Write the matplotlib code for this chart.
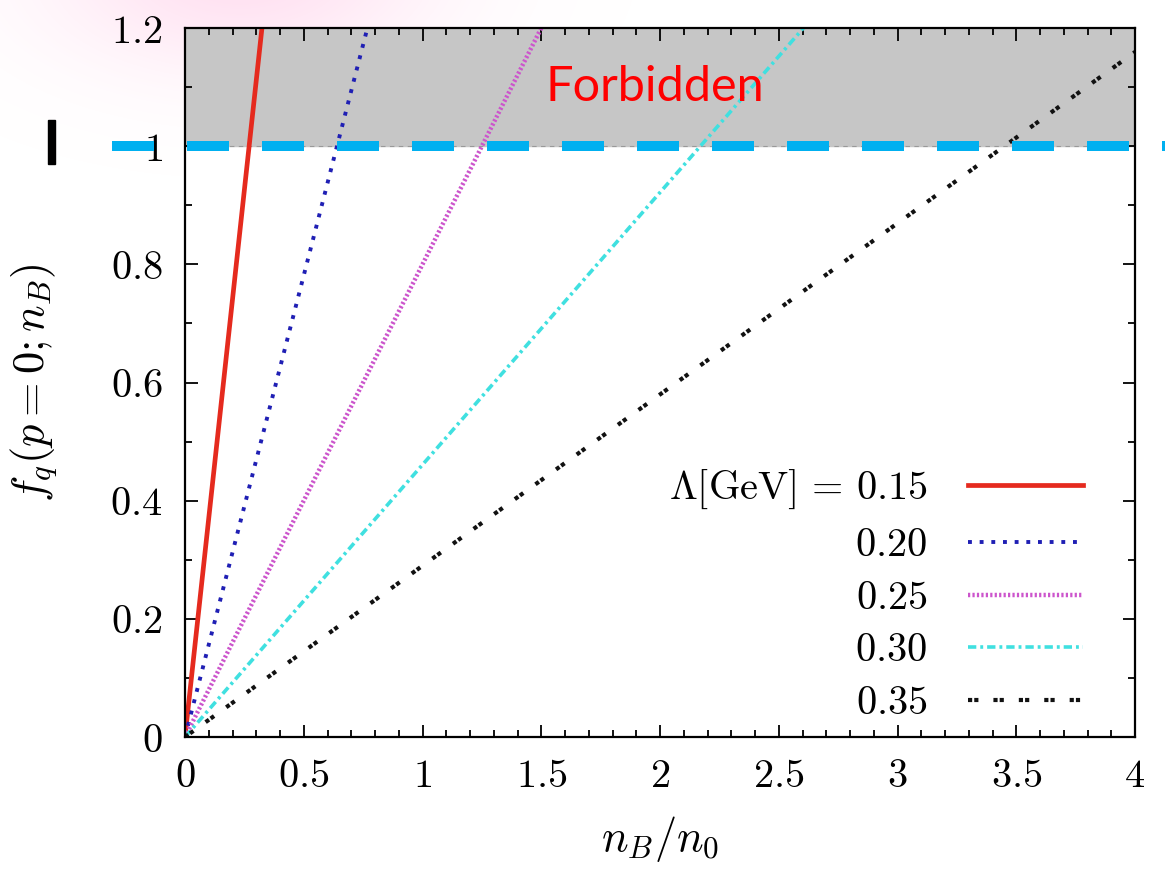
import numpy as np
import matplotlib
matplotlib.use("Agg")
import matplotlib.pyplot as plt
from matplotlib.patches import Rectangle

plt.rcParams['mathtext.fontset'] = 'cm'
plt.rcParams['font.family'] = ['DejaVu Serif']

# Lambda values and the n_B/n_0 where f_q reaches 1
lam_labels = [r'$\Lambda[\mathrm{GeV}]\,=\,0.15$', r'$0.20$', r'$0.25$', r'$0.30$', r'$0.35$']
n_crit = [0.27, 0.64, 1.25, 2.17, 3.45]
colors = ['#e52a1e', '#1f1fb4', '#cc55cc', '#40e0e0', '#111111']
styles = ['-', (0, (1, 2)), (0, (0.5, 0.5)), (0, (2.3, 1.1, 0.8, 1.1)), (0, (1, 0.5, 1, 3.6))]
widths = [3.4, 2.8, 3.2, 2.6, 3.0]

xticks = [0, 0.5, 1, 1.5, 2, 2.5, 3, 3.5, 4]
xtick_labels = ['$0$', '$0.5$', '$1$', '$1.5$', '$2$', '$2.5$', '$3$', '$3.5$', '$4$']
yticks = [0, 0.2, 0.4, 0.6, 0.8, 1.0, 1.2]
ytick_labels = ['$0$', '$0.2$', '$0.4$', '$0.6$', '$0.8$', '$1$', '$1.2$']

fig = plt.figure(figsize=(11.65, 8.73), dpi=100)

# faint pink glow top-left
H, W = 873, 1165
yy, xx = np.mgrid[0:H, 0:W]
r2 = ((xx - 240) / 190.0) ** 2 + ((yy + 30) / 100.0) ** 2
glow = np.zeros((H, W, 4))
glow[..., 0] = 1.0
glow[..., 1] = 0.6
glow[..., 2] = 0.82
glow[..., 3] = 0.3 * np.exp(-r2)
fig.figimage(glow, 0, 0, origin='upper', zorder=-1)

ax = fig.add_axes([185 / 1165, 1 - 737 / 873, 950 / 1165, 709 / 873])
ax.set_xlim(0, 4)
ax.set_ylim(0, 1.2)

# forbidden region
ax.axhspan(1.0, 1.2, color='#c6c6c6', zorder=0)
ax.axhline(1.0, color='#999999', lw=0.8, ls=(0, (4, 4)), zorder=1)

for lab, nc, c, s, w in zip(lam_labels, n_crit, colors, styles, widths):
    x = np.array([0, 4.0])
    y = x / nc
    ax.plot(x, y, color=c, ls=s, lw=w, label=lab, zorder=3)

ax.text(1.98, 1.1, 'Forbidden', color='red', fontsize=35, family='Lato',
        ha='center', va='center', zorder=4)

# big dashed line at f=1
ax.axhline(1.0, xmin=-0.077, xmax=1.04, color='#00b0f0', lw=7.2,
           ls=(0, (4.2, 3.3)), clip_on=False, zorder=5)

ax.set_xticks(xticks)
ax.set_xticklabels(xtick_labels)
ax.set_yticks(yticks)
ax.set_yticklabels(ytick_labels)
ax.set_xticks(np.arange(0, 4.01, 0.1), minor=True)
ax.set_yticks(np.arange(0, 1.21, 0.1), minor=True)
ax.tick_params(which='both', direction='in', top=True, right=True, width=1.3)
ax.tick_params(which='major', length=9, labelsize=29)
ax.tick_params(axis='x', which='major', pad=15)
ax.tick_params(axis='y', which='major', pad=16)
ax.tick_params(which='minor', length=5)
for sp in ax.spines.values():
    sp.set_linewidth(1.6)
    sp.set_zorder(6)

ax.set_xlabel(r'$n_B/n_0$', fontsize=32, labelpad=14)
ax.set_ylabel(r'$f_q(p=0;n_B)$', fontsize=32, labelpad=36)

ax.legend(loc='lower right', bbox_to_anchor=(0.983, -0.03), frameon=False,
          markerfirst=False, fontsize=29, handlelength=2.85, handletextpad=1.0,
          labelspacing=0.39)

# black bar on the left
fig.add_artist(Rectangle((48 / 1165, 1 - 164 / 873), 7 / 1165, 44 / 873,
                         transform=fig.transFigure, color='black'))

fig.savefig('out.png', dpi=100)
